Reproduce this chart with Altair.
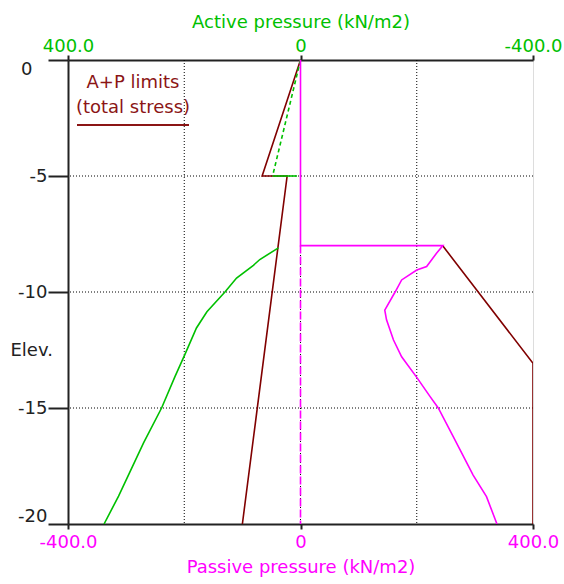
import altair as alt
import pandas as pd

# ---------------- data (kN/m2 vs elevation m) ----------------
# Active side (top axis, positive to the left)
act_dash_elev = [0, -5]
act_dash_p = [0, 48]
act_step_elev = [-5, -5]
act_step_p = [48, 6]
act_curve_elev = [-8.1, -8.6, -8.85, -9.4, -10.0, -10.85, -11.55, -12.7, -13.65, -15.0, -16.5, -18.8, -20.0]
act_curve_p = [38, 70, 81, 110, 130, 161, 179, 199, 216, 239, 270, 313, 338]
lim_act_elev = [0, -5, -5, -20]
lim_act_p = [0, 66, 23, 100]

# Passive side (bottom axis)
pas_elev = [0, -8, -8, -8.33, -8.9, -9.05, -9.48, -9.99, -10.78, -11.2, -12.07, -12.79,
            -13.68, -14.51, -15.0, -16.24, -17.89, -18.82, -20.0]
pas_p = [0, 0, 245, 234, 217, 200, 174, 163, 145, 148, 160, 174,
         200, 223, 237, 263, 297, 320, 338]
wall_elev = [-8, -20]
wall_p = [0, 0]
lim_pas_elev = [-8.02, -13.07, -20]
lim_pas_p = [245, 400, 400]

grid_x = [-200, 0, 200]
grid_y = [-5, -10, -15]
x_ticks_pas = [-400, 0, 400]
x_ticks_act = [400, 0, -400]
y_ticks = [0, -5, -10, -15, -20]
legend_lines = ["A+P limits", "(total stress)"]

# ---------------- styles ----------------
F = "DejaVu Sans"
FS = 18
GREEN = "#00C000"
MAG = "#FF00FF"
BROWN = "#800000"
LEG = "#8B1515"
AX = "#222222"
W, H = 465, 464

sc_act = alt.Scale(domain=[400, -400], nice=False, zero=False)
sc_pas = alt.Scale(domain=[-400, 400], nice=False, zero=False)
sc_y = alt.Scale(domain=[-20, 0], nice=False, zero=False)

num_expr = "datum.value == 0 ? '0' : (datum.value < 0 ? '-' : '') + format(abs(datum.value), '.1f')"

ax_act = alt.Axis(orient="top", values=x_ticks_act, title="Active pressure (kN/m2)",
                  titleColor=GREEN, titleFont=F, titleFontSize=FS, titleFontWeight="normal",
                  titlePadding=6,
                  labelColor=GREEN, labelFont=F, labelFontSize=FS, labelExpr=num_expr,
                  labelPadding=0, labelFlush=False, labelOverlap=False, labelBound=False,
                  tickSize=5, tickWidth=2, tickColor=AX, domainColor=AX, domainWidth=2, grid=False)
ax_pas = alt.Axis(orient="bottom", values=x_ticks_pas, title="Passive pressure (kN/m2)",
                  titleColor=MAG, titleFont=F, titleFontSize=FS, titleFontWeight="normal",
                  titlePadding=7,
                  labelColor=MAG, labelFont=F, labelFontSize=FS, labelExpr=num_expr,
                  labelPadding=4, labelFlush=False, labelOverlap=False, labelBound=False,
                  tickSize=5, tickWidth=2, tickColor=AX, domainColor=AX, domainWidth=2, grid=False)
ax_y = alt.Axis(values=y_ticks, title="Elev.", titleAngle=0, titleAlign="left",
                titleBaseline="middle", titleX=-58, titleY=290,
                titleFont=F, titleFontSize=FS, titleFontWeight="normal", titleColor=AX,
                labelFont=F, labelFontSize=FS, labelColor=AX,
                labelExpr="datum.value == 0 ? '0' : '-' + abs(datum.value)",
                labelPadding={"condition": {"test": "datum.value == 0", "value": 16}, "value": 1},
                labelBaseline={"condition": {"test": "datum.value == 0", "value": "top"}, "value": "middle"},
                labelOffset={"condition": {"test": "datum.value == -20", "value": -8}, "value": 0},
                labelOverlap=False, labelFlush=False, labelBound=False,
                tickSize=20, tickWidth=2, tickColor=AX, domainColor=AX, domainWidth=2, grid=False)


def df(p, e):
    return pd.DataFrame({"p": p, "e": e, "i": list(range(len(p)))})


def line(p, e, color, sc, ax, width=1.6, dash=None):
    kw = dict(color=color, strokeWidth=width, clip=True)
    if dash:
        kw["strokeDash"] = dash
    return alt.Chart(df(p, e)).mark_line(**kw).encode(
        x=alt.X("p:Q", scale=sc, axis=ax),
        y=alt.Y("e:Q", scale=sc_y, axis=ax_y),
        order="i:Q",
    )


# grid (in active coordinates; symmetric positions)
grid_v = alt.Chart(pd.DataFrame({"p": grid_x})).mark_rule(
    color="black", strokeWidth=1, strokeDash=[1, 2]).encode(
    x=alt.X("p:Q", scale=sc_act, axis=ax_act))
grid_h = alt.Chart(pd.DataFrame({"e": grid_y})).mark_rule(
    color="black", strokeWidth=1, strokeDash=[1, 2]).encode(
    y=alt.Y("e:Q", scale=sc_y, axis=ax_y))

active = alt.layer(
    grid_v, grid_h,
    line(lim_act_p, lim_act_elev, BROWN, sc_act, ax_act),
    line(act_dash_p, act_dash_elev, GREEN, sc_act, ax_act, dash=[4, 3]),
    line(act_step_p, act_step_elev, GREEN, sc_act, ax_act),
    line(act_curve_p, act_curve_elev, GREEN, sc_act, ax_act),
)

leg1 = alt.Chart(pd.DataFrame({"t": [legend_lines[0]]})).mark_text(
    font=F, fontSize=FS, color=LEG, align="center", baseline="alphabetic").encode(
    x=alt.value(65), y=alt.value(28), text="t:N")
leg2 = alt.Chart(pd.DataFrame({"t": [legend_lines[1]]})).mark_text(
    font=F, fontSize=FS, color=LEG, align="center", baseline="alphabetic").encode(
    x=alt.value(65), y=alt.value(53), text="t:N")
uline = alt.Chart(pd.DataFrame({"t": [0]})).mark_rule(color=LEG, strokeWidth=2).encode(
    x=alt.value(9), x2=alt.value(121), y=alt.value(65))

passive = alt.layer(
    line(wall_p, wall_elev, MAG, sc_pas, ax_pas, dash=[8, 3]),
    line(lim_pas_p, lim_pas_elev, BROWN, sc_pas, ax_pas),
    line(pas_p, pas_elev, MAG, sc_pas, ax_pas),
    leg1, leg2, uline,
)

chart = alt.layer(active, passive).resolve_scale(x="independent").properties(
    width=W, height=H, autosize="none",
    padding={"left": 68, "top": 60, "right": 31, "bottom": 60},
).configure_view(stroke=AX, strokeWidth=2).configure(background="white")

chart.save("out.html", embed_options={"renderer": "svg", "actions": False})
